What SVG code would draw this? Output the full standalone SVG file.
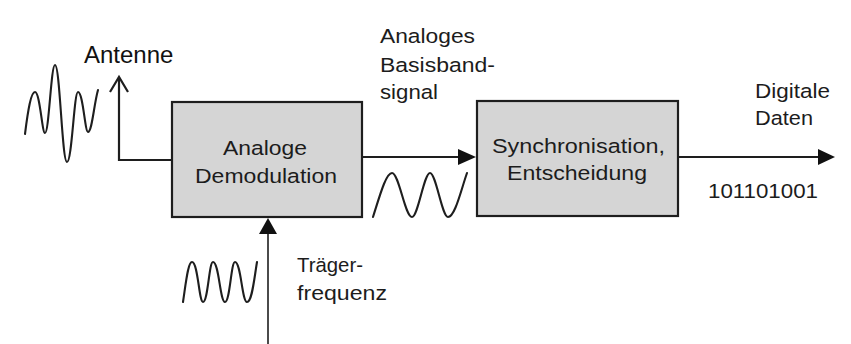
<svg xmlns="http://www.w3.org/2000/svg" width="851" height="344" viewBox="0 0 851 344">
<defs>
<style>
.box{fill:#d5d5d5;stroke:#1e1e1e;stroke-width:2.2}
.t{font-family:"Liberation Sans",Arial,sans-serif;font-size:20.5px;fill:#1c1c1c}
.lbl{font-family:"Liberation Sans",Arial,sans-serif;font-size:24px;fill:#111}
.wire{fill:none;stroke:#1e1e1e;stroke-width:2.2}
.thin{fill:none;stroke:#1e1e1e;stroke-width:1.6}
.wave{fill:none;stroke:#1e1e1e;stroke-width:2.1;stroke-linecap:round;stroke-linejoin:round}
.head{fill:#111}
</style>
</defs>
<rect width="851" height="344" fill="#fff"/>
<g id="connectors">
<path class="wire" d="M119,79 V160 H172"/>
<path class="wire" d="M110,92 L119,77 L128,92"/>
<path class="wire" d="M362,157 H460"/>
<polygon class="head" points="458,149 476,157 458,165"/>
<path class="wire" d="M678,157 H820"/>
<polygon class="head" points="818,149 835,157 818,165"/>
<path class="thin" d="M268,344 V232"/>
<polygon class="head" points="259,234 268,218 277,234"/>
</g>
<g id="antenna-signal">
<path class="wave" d="M25,134 C28,110 31,92 35,92 C40,92 42,133 45,133 C49,133 51,65 55,65 C60,65 62,162 67,162 C72,162 74,92 78,92 C83,92 85,132 88,132 C92,132 94,104 98,90"/>
<text class="lbl" x="84" y="63">Antenne</text>
</g>
<g id="demodulation">
<rect class="box" x="172" y="102" width="190" height="115"/>
<text class="t" x="223" y="155" textLength="84" lengthAdjust="spacingAndGlyphs">Analoge</text>
<text class="t" x="195" y="183" textLength="142" lengthAdjust="spacingAndGlyphs">Demodulation</text>
</g>
<g id="baseband">
<text class="t" x="380" y="43" textLength="95" lengthAdjust="spacingAndGlyphs">Analoges</text>
<text class="t" x="380" y="72" textLength="115" lengthAdjust="spacingAndGlyphs">Basisband-</text>
<text class="t" x="380" y="99" textLength="58" lengthAdjust="spacingAndGlyphs">signal</text>
<path class="wave" d="M373,217 C380,195 386,173 392,173 C399,173 405,217 412,217 C418,217 424,173 430,173 C436,173 442,217 448,217 C455,217 461,190 467,173"/>
</g>
<g id="synchronisation">
<rect class="box" x="477" y="101" width="201" height="115"/>
<text class="t" x="492" y="153" textLength="173" lengthAdjust="spacingAndGlyphs">Synchronisation,</text>
<text class="t" x="507" y="180" textLength="140" lengthAdjust="spacingAndGlyphs">Entscheidung</text>
</g>
<g id="digital-output">
<text class="t" x="755" y="98" textLength="75" lengthAdjust="spacingAndGlyphs">Digitale</text>
<text class="t" x="755" y="125" textLength="58" lengthAdjust="spacingAndGlyphs">Daten</text>
<text class="t" x="708" y="198" textLength="110" lengthAdjust="spacingAndGlyphs">101101001</text>
</g>
<g id="carrier">
<path class="wave" d="M183,302 C186,282 188,262 192,262 C198,262 199,302 203,302 C208,302 209,262 213,262 C219,262 220,302 225,302 C230,302 231,262 235,262 C241,262 242,302 247,302 C252,302 254,280 257,262"/>
<text class="t" x="297" y="272" textLength="66" lengthAdjust="spacingAndGlyphs">Träger-</text>
<text class="t" x="297" y="300" textLength="90" lengthAdjust="spacingAndGlyphs">frequenz</text>
</g>
</svg>
